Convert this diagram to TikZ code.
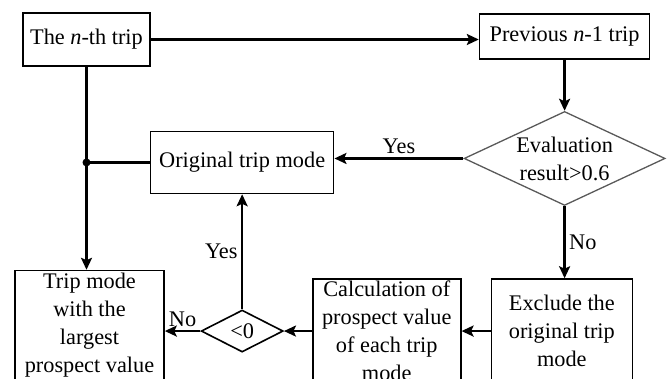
\documentclass[tikz,border=0pt]{standalone}
\usepackage{fontspec}
\setmainfont{Liberation Serif}
\usepackage{tikz}
\usetikzlibrary{arrows.meta, positioning, shapes.geometric}

\begin{document}
\begin{tikzpicture}[
    x=1pt, y=1pt,
    every node/.style={font=\fontsize{22.3}{28}\selectfont},
    stepbox/.style={draw, line width=1.6pt, inner sep=2pt, align=center},
    decision/.style={draw, diamond, inner sep=0pt, align=center},
    arrow/.style={-{Stealth[length=12pt, width=11pt, inset=2.5pt]}, line width=2.6pt},
    link/.style={line width=2.6pt},
]
\useasboundingbox (0,0) rectangle (670,-378);

% Top row
\node[stepbox, minimum width=127pt, minimum height=53pt] (nth) at (86.5,-39.5) {The \textit{n}-th trip};
\node[stepbox, minimum width=170pt, minimum height=45pt, right=328pt of nth, yshift=3pt] (prev) {Previous \textit{n}-1 trip};

% Evaluation
\node[decision, draw=black!65, line width=1.3pt, aspect=2.14, minimum width=201pt, minimum height=94pt, below=51pt of prev] (eval) {Evaluation\\result>0.6};
\node[stepbox, minimum width=183pt, minimum height=62pt, left=129pt of eval, yshift=-4pt] (orig) {Original trip mode};

% Bottom row
\node[decision, line width=1.6pt, aspect=1.95, minimum width=82pt, minimum height=42pt, below=115pt of orig] (neg) {<0};
\node[stepbox, minimum width=149pt, minimum height=110pt, below=203pt of nth, xshift=3pt] (largest) {Trip mode\\with the\\largest\\prospect value};
\node[stepbox, minimum width=148pt, minimum height=104pt, right=28pt of neg] (calc) {Calculation of\\prospect value\\of each trip\\mode};
\node[stepbox, minimum width=141pt, minimum height=104pt, right=29pt of calc] (excl) {Exclude the\\original trip\\mode};

% Junction on the left line
\coordinate (junc) at (nth.south |- orig.west);

% Arrows
\draw[arrow] (nth.east) -- (nth.east -| prev.west);
\draw[arrow] (prev.south) -- (eval.north);
\draw[arrow] (eval.west) -- node[midway, above] {Yes} (eval.west -| orig.east);
\draw[arrow] (eval.south) -- node[midway, right] {No} (eval.south |- excl.north);
\draw[arrow] (excl.west) -- (calc.east);
\draw[arrow] (calc.west) -- (neg.east);
\draw[arrow] (neg.west) -- node[midway, above] {No} (neg.west -| largest.east);
\draw[arrow] (neg.north) -- node[midway, left] {Yes} (orig.south);
\draw[arrow] (nth.south) -- (nth.south |- largest.north);
\draw[link] (junc) -- (orig.west);
\fill (junc) circle (4pt);

\end{tikzpicture}
\end{document}
